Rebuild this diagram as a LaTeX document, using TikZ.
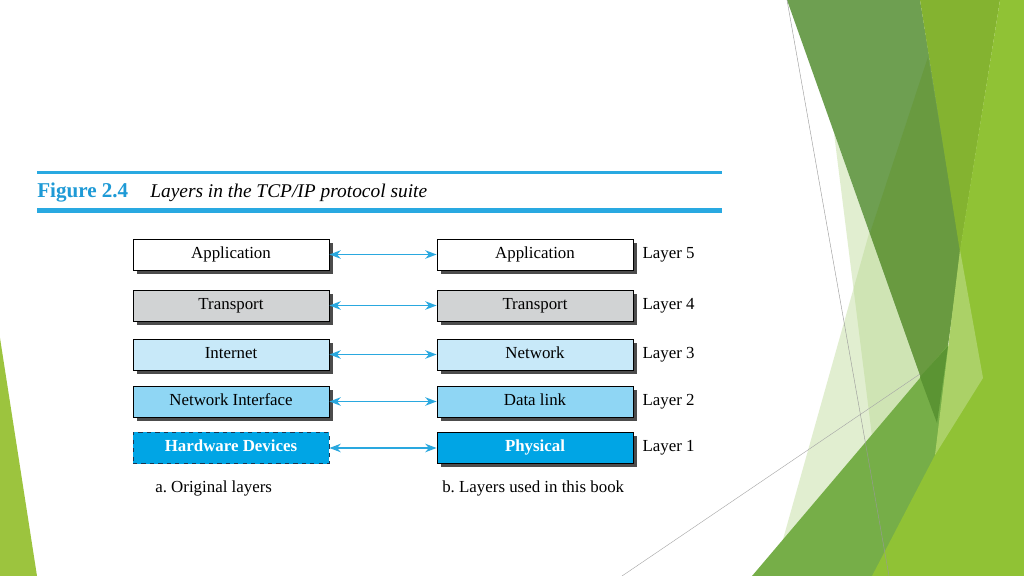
\documentclass[tikz,border=0pt]{standalone}
\usepackage{fontspec}
\setmainfont{Liberation Serif}
\usetikzlibrary{positioning,arrows.meta,shadows}

\definecolor{figblue}{HTML}{1E9AD6}
\definecolor{rulecol}{HTML}{29A9E1}
\definecolor{arrcol}{HTML}{2AA8DF}
\definecolor{grayfill}{HTML}{D1D3D4}
\definecolor{paleblue}{HTML}{C8E9F9}
\definecolor{midblue}{HTML}{8FD6F4}
\definecolor{deepblue}{HTML}{00A5E5}
\definecolor{dashcol}{HTML}{1B3550}
\definecolor{gdark}{HTML}{6E9F51}
\definecolor{gdarker}{HTML}{699A40}
\definecolor{golive}{HTML}{84B330}
\definecolor{gmid}{HTML}{76AE48}
\definecolor{gdeep}{HTML}{5B9433}
\definecolor{gbright}{HTML}{90C235}
\definecolor{gpale}{HTML}{B5D68A}
\definecolor{gleft}{HTML}{9CC43E}

\tikzset{
  layerbox/.style={draw=black, line width=0.6pt, minimum width=4.9cm, minimum height=0.775cm,
    inner sep=0pt, text height=8pt, text depth=2.5pt, font=\fontsize{12}{14}\selectfont,
    drop shadow={shadow xshift=0.09cm, shadow yshift=-0.09cm, opacity=1, fill=black!70}},
  hwbox/.style={draw=dashcol, dashed, line width=0.6pt, fill=deepblue, minimum width=4.9cm,
    minimum height=0.775cm, inner sep=0pt, text height=8pt, text depth=2.5pt, text=white,
    font=\fontsize{12}{14}\selectfont\bfseries},
  lyrarrow/.style={arrcol, line width=0.9pt,
    {Stealth[length=8pt,width=6pt,inset=2.5pt]}-{Stealth[length=8pt,width=6pt,inset=2.5pt]}},
  lyrlabel/.style={inner sep=0pt, text height=8pt, text depth=2.5pt, font=\fontsize{12}{14}\selectfont},
  captext/.style={anchor=base west, inner sep=0pt, font=\fontsize{12}{14}\selectfont},
}

\begin{document}
\begin{tikzpicture}[x=0.025cm, y=-0.025cm]
        \useasboundingbox (0,0) rectangle (1024,576);
        \fill[white] (0,0) rectangle (1024,576);
        % slide decoration
        \fill[gpale, opacity=0.4] (834,133) -- (880,500) -- (937,423) -- cycle;
        \fill[gpale, opacity=0.4] (870,230) -- (780,550) -- (900,576) -- (937,423) -- cycle;
        \draw[black!35, line width=0.3pt] (622,576) -- (948,355);
        \fill[gdark] (787,0) -- (920,0) -- (961,252) -- (937,423) -- cycle;
        \fill[gdarker] (928,57) -- (961,252) -- (937,423) -- (870,233) -- cycle;
        \fill[golive] (920,0) -- (1000,0) -- (960,252) -- cycle;
        \fill[gmid] (752,576) -- (948,345) -- (1000,576) -- cycle;
        \fill[gdeep] (920,377) -- (948,346) -- (937,423) -- cycle;
        \fill[gbright] (1000,0) -- (1024,0) -- (1024,576) -- (872,576) -- (935,455) -- (960,250) -- cycle;
        \fill[white, opacity=0.25] (960,250) -- (983,378) -- (935,455) -- cycle;
        \fill[gleft] (0,338) -- (37,576) -- (0,576) -- cycle;
        \draw[black!40, line width=0.3pt] (787,0) -- (889,576);
        % figure heading
        \draw[rulecol, line width=1.8pt] (37,172.5) -- (722,172.5);
        \draw[rulecol, line width=3.6pt] (37,210.5) -- (722,210.5);
        \node[anchor=base west, inner sep=0pt, text=figblue, font=\fontsize{15}{17}\selectfont\bfseries] (fignum) at (37,197.5) {Figure 2.4};
        \node[anchor=base west, inner sep=0pt, font=\fontsize{13.8}{16}\selectfont\itshape] (figtitle) at (150,197.5) {Layers in the TCP/IP protocol suite};
        % original layers
        \node[layerbox, fill=white] (oApp) at (231,254.5) {Application};
        \node[layerbox, fill=grayfill] (oTra) at (231,305.5) {Transport};
        \node[layerbox, fill=paleblue] (oInt) at (231,354.5) {Internet};
        \node[layerbox, fill=midblue] (oNet) at (231,401.5) {Network Interface};
        \node[hwbox] (oHw) at (231,448) {Hardware Devices};
        % layers used in this book
        \node[layerbox, fill=white] (bApp) at (535,254.5) {Application};
        \node[layerbox, fill=grayfill] (bTra) at (535,305.5) {Transport};
        \node[layerbox, fill=paleblue] (bNet) at (535,354.5) {Network};
        \node[layerbox, fill=midblue] (bDl) at (535,401.5) {Data link};
        \node[layerbox, fill=deepblue, text=white, font=\fontsize{12}{14}\selectfont\bfseries] (bPhy) at (535,448) {Physical};
        \node[lyrlabel, right=0.22cm of bApp] (lay5) {Layer 5};
        \node[lyrlabel, right=0.22cm of bTra] (lay4) {Layer 4};
        \node[lyrlabel, right=0.22cm of bNet] (lay3) {Layer 3};
        \node[lyrlabel, right=0.22cm of bDl] (lay2) {Layer 2};
        \node[lyrlabel, right=0.22cm of bPhy] (lay1) {Layer 1};
        \draw[lyrarrow] (oApp.east) -- (bApp.west);
        \draw[lyrarrow] (oTra.east) -- (bTra.west);
        \draw[lyrarrow] (oInt.east) -- (bNet.west);
        \draw[lyrarrow] (oNet.east) -- (bDl.west);
        \draw[lyrarrow] (oHw.east) -- (bPhy.west);
        \node[captext] (capA) at (155,492.5) {a.\ Original layers};
        \node[captext] (capB) at (442,492.5) {b.\ Layers used in this book};
    \end{tikzpicture}
\end{document}
